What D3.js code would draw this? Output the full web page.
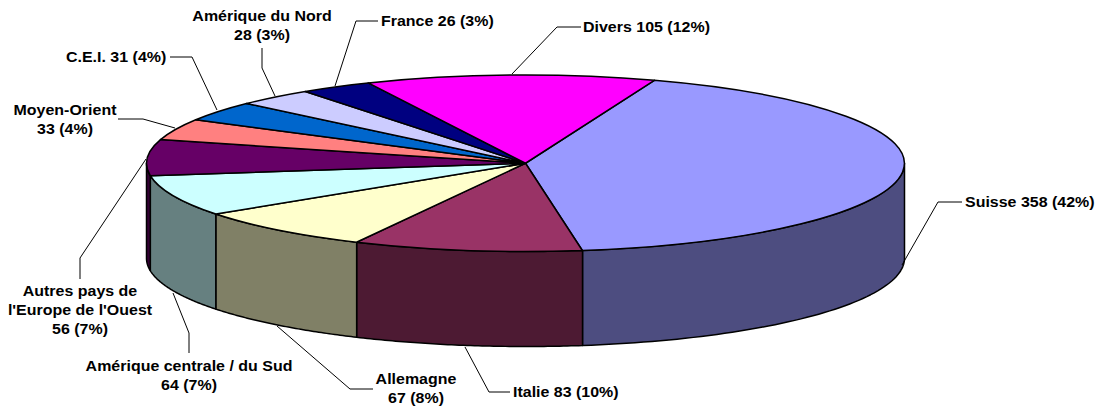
<!DOCTYPE html>
<html>
<head>
<meta charset="utf-8">
<script src="https://cdn.jsdelivr.net/npm/d3@7"></script>
<style>
  html, body { margin: 0; background: #fff; }
  svg { display: block; }
  text { font-family: "Liberation Sans", Arial, sans-serif; font-weight: bold; font-size: 14.2px; fill: #000; }
</style>
</head>
<body>
<div id="chart"></div>
<script>
// Values, clockwise from the Divers/Suisse boundary
const categories = ["Suisse", "Italie", "Allemagne", "Amérique centrale / du Sud",
  "Autres pays de l'Europe de l'Ouest", "Moyen-Orient", "C.E.I.", "Amérique du Nord", "France", "Divers"];
const values = [358, 83, 67, 64, 56, 33, 31, 28, 26, 105];
const percents = [42, 10, 8, 7, 7, 4, 4, 3, 3, 12];
const topColors = ["#9999ff", "#993366", "#ffffcc", "#ccffff", "#660066", "#ff8080", "#0066cc", "#ccccff", "#000080", "#ff00ff"];
const sideColors = ["#4d4d80", "#4d1a33", "#808066", "#668080", "#330033", "#804040", "#003366", "#666680", "#000040", "#800080"];

// Label lines, one entry per category
const labelLines = [
  ["Suisse 358 (42%)"],
  ["Italie 83 (10%)"],
  ["Allemagne", "67 (8%)"],
  ["Amérique centrale / du Sud", "64 (7%)"],
  ["Autres pays de", "l'Europe de l'Ouest", "56 (7%)"],
  ["Moyen-Orient", "33 (4%)"],
  ["C.E.I. 31 (4%)"],
  ["Amérique du Nord", "28 (3%)"],
  ["France 26 (3%)"],
  ["Divers 105 (12%)"]
];

// Layout only: where the labels sit and how the leader lines run
const labelLayout = [
  { x: 965, y: 202, anchor: "start", leader: [[902, 265], [938, 202], [962, 202]] },
  { x: 513, y: 392, anchor: "start", leader: [[465, 347], [489, 392], [510, 392]] },
  { x: 416, y: 379, anchor: "middle", leader: [[277, 326], [350, 389], [373, 389]] },
  { x: 189, y: 366, anchor: "middle", leader: [[173, 293], [189, 333], [189, 353]] },
  { x: 80, y: 291, anchor: "middle", leader: [[146, 159], [80, 258], [80, 279]] },
  { x: 65, y: 110, anchor: "middle", leader: [[175, 128], [143, 119], [118, 119]] },
  { x: 66, y: 57, anchor: "start", leader: [[217, 110], [192, 57], [170, 57]] },
  { x: 262, y: 16, anchor: "middle", leader: [[275, 96], [262, 68], [262, 48]] },
  { x: 381, y: 21, anchor: "start", leader: [[335, 86], [356, 21], [378, 21]] },
  { x: 583, y: 27, anchor: "start", leader: [[512, 74], [557, 27], [581, 27]] }
];

const width = 1098;
const height = 407;
const depth = 95;
const startAngle = 19.9 * Math.PI / 180;
const lineHeight = 19;
const textStretch = 1.125; // reference text is wider than the font

const svg = d3.select("#chart").append("svg")
  .attr("width", width)
  .attr("height", height);

// Unit circle -> squashed ellipse
const xScale = d3.scaleLinear().domain([-1, 1]).range([146.5, 904.5]);
const yScale = d3.scaleLinear().domain([-1, 1]).range([75, 251.5]);

const pie = d3.pie()
  .sort(null)
  .startAngle(startAngle)
  .endAngle(startAngle + 2 * Math.PI);
const slices = pie(values).map((d, i) => ({ ...d, i }));

const rimX = (a) => xScale(Math.sin(a));
const rimY = (a) => yScale(-Math.cos(a));

// Side walls: only the part of each slice on the front half
const frontStart = Math.PI / 2;
const frontEnd = 3 * Math.PI / 2;
const sidePath = d3.line().x((d) => d[0]).y((d) => d[1]);

function wall(d) {
  const a0 = Math.max(d.startAngle, frontStart);
  const a1 = Math.min(d.endAngle, frontEnd);
  if (a1 <= a0) return null;
  const steps = d3.range(0, 61).map((k) => a0 + (a1 - a0) * k / 60);
  const upper = steps.map((a) => [rimX(a), rimY(a)]);
  const lower = steps.slice().reverse().map((a) => [rimX(a), rimY(a) + depth]);
  return sidePath(upper.concat(lower)) + "Z";
}

svg.append("g")
  .selectAll("path")
  .data(slices.filter((d) => wall(d)))
  .join("path")
  .attr("d", wall)
  .attr("fill", (d) => sideColors[d.i])
  .attr("stroke", "#000")
  .attr("stroke-width", 1.5)
  .attr("stroke-linejoin", "round");

// Top faces
const arc = d3.arc().innerRadius(0).outerRadius(1);
svg.append("g")
  .attr("transform", `translate(${xScale(0)},${yScale(0)}) scale(${xScale(1) - xScale(0)},${yScale(1) - yScale(0)})`)
  .selectAll("path")
  .data(slices)
  .join("path")
  .attr("d", arc)
  .attr("fill", (d) => topColors[d.i])
  .attr("stroke", "#000")
  .attr("stroke-width", 1.5)
  .attr("stroke-linejoin", "round")
  .attr("vector-effect", "non-scaling-stroke");

// Leader lines
svg.append("g")
  .selectAll("path")
  .data(labelLayout)
  .join("path")
  .attr("d", (d) => sidePath(d.leader))
  .attr("fill", "none")
  .attr("stroke", "#000")
  .attr("stroke-width", 1);

// Labels
const label = svg.append("g")
  .selectAll("text")
  .data(categories)
  .join("text")
  .attr("text-anchor", (d, i) => labelLayout[i].anchor)
  .attr("transform", (d, i) => `translate(${labelLayout[i].x},${labelLayout[i].y}) scale(${textStretch},1)`)
  .attr("data-value", (d, i) => values[i])
  .attr("data-percent", (d, i) => percents[i]);

label.selectAll("tspan")
  .data((d, i) => labelLines[i].map((t, k) => ({ t, k })))
  .join("tspan")
  .attr("x", 0)
  .attr("y", (d) => d.k * lineHeight)
  .attr("dy", "0.35em")
  .text((d) => d.t);
</script>
</body>
</html>
